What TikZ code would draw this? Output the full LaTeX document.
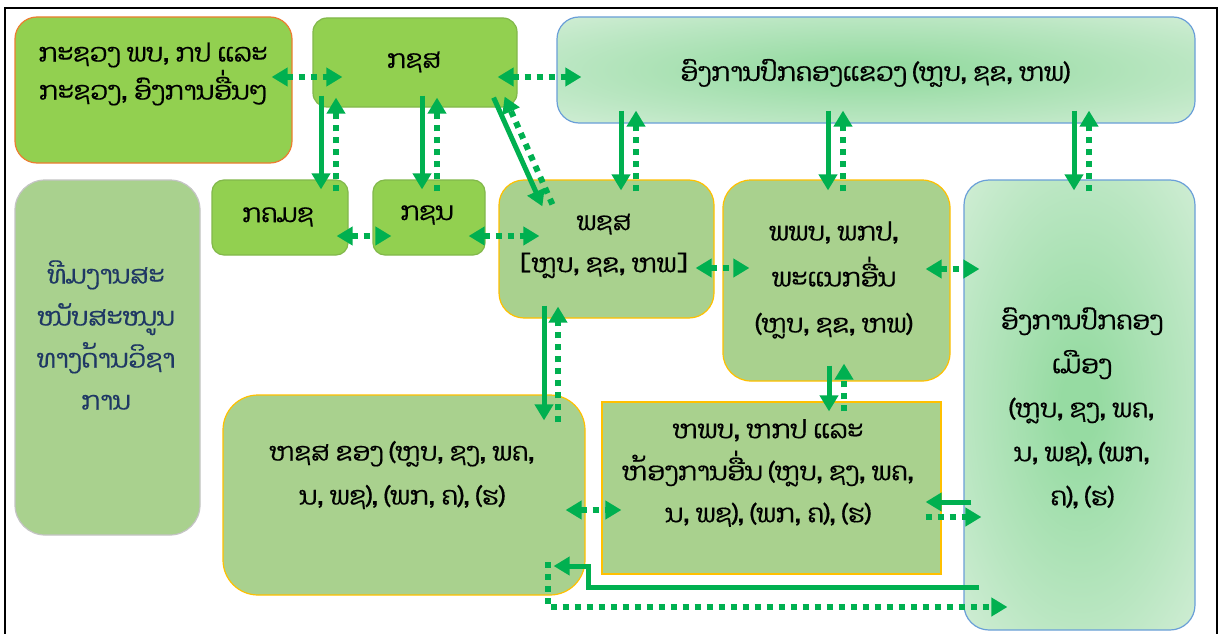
\documentclass[tikz,border=0pt]{standalone}
\usepackage{fontspec}
\newfontfamily\laofont[Script=Lao, FakeBold=0.5]{Dhyana}
\usetikzlibrary{arrows.meta,calc}
\definecolor{ag}{HTML}{00B050}
\definecolor{lg}{HTML}{92D050}
\definecolor{mg}{HTML}{A9D18E}
\definecolor{og}{HTML}{ED7D31}
\definecolor{gb}{HTML}{82B84A}
\definecolor{gold}{HTML}{FFC000}
\definecolor{bl}{HTML}{6A9FD8}
\definecolor{gc}{HTML}{96DBA2}
\definecolor{gm}{HTML}{B9E6C1}
\definecolor{ge}{HTML}{E0F2E2}
\definecolor{navy}{HTML}{1F3864}
\definecolor{gy}{HTML}{C4C4C4}
\pgfdeclareradialshading{myrad}{\pgfpoint{0bp}{0bp}}{color(0bp)=(gc); color(4bp)=(gc); color(24bp)=(gm); color(44bp)=(ge); color(50bp)=(ge)}
\begin{document}
\begin{tikzpicture}[x=1pt,y=-1pt,
  >={Triangle[length=16pt,width=18pt]},
  box/.style={rectangle, inner sep=0pt, line width=1.2pt},
  gbox/.style={box, draw=bl, shading=myrad},
  txt/.style={font=\laofont\fontsize{25.5}{#1}\selectfont, align=center, inner sep=0pt},
  txt/.default=42,
  sline/.style={draw=ag, line width=5pt},
  dline/.style={draw=ag, line width=6pt, dash pattern=on 6pt off 6pt}]
\useasboundingbox (0,0) rectangle (1221,634);
\fill[white] (0,0) rectangle (1221,634);
\draw[line width=2.2pt] (5,640) -- (5,8) -- (1217,8) -- (1217,640);

% boxes
\node[box, fill=lg, draw=og, rounded corners=22pt, minimum width=277pt, minimum height=146pt] (A) at (153.5,90) {};
\node[box, fill=lg, draw=gb, rounded corners=14pt, minimum width=204pt, minimum height=89pt] (B) at (415,62.5) {};
\node[gbox, rounded corners=22pt, minimum width=638pt, minimum height=106pt] (C) at (876,70) {};
\node[box, fill=mg, draw=gy, rounded corners=30pt, minimum width=185pt, minimum height=355pt] (D) at (107.5,357.5) {};
\node[box, fill=lg, draw=gb, rounded corners=12pt, minimum width=136pt, minimum height=75pt] (E) at (280,217.5) {};
\node[box, fill=lg, draw=gb, rounded corners=12pt, minimum width=112pt, minimum height=75pt] (F) at (429,217.5) {};
\node[box, fill=mg, draw=gold, rounded corners=25pt, minimum width=215pt, minimum height=138pt] (G) at (606.5,249) {};
\node[box, fill=mg, draw=gold, rounded corners=28pt, minimum width=227pt, minimum height=201pt] (H) at (836.5,280.5) {};
\node[gbox, rounded corners=25pt, minimum width=231pt, minimum height=450pt] (I) at (1079.5,405) {};
\node[box, fill=mg, draw=gold, rounded corners=35pt, minimum width=362pt, minimum height=200pt] (J) at (404,495) {};
\node[box, fill=mg, draw=gold, minimum width=339pt, minimum height=172pt] (K) at (771.5,488) {};

% texts
\node[txt=38] (At) at (153,74) {ກະຊວງ ພບ, ກປ ແລະ\\ກະຊວງ, ອົງການອື່ນໆ};
\node[txt] (Bt) at (414,62) {ກຊສ};
\node[txt] (Ct) at (875,73) {ອົງການປົກຄອງແຂວງ (ຫຼບ, ຊຂ, ຫພ)};
\node[txt, text=navy] (Dt) at (106,335) {ທີມງານສະ\\ໜັບສະໜູນ\\ທາງດ້ານວິຊາ\\ການ};
\node[txt] (Et) at (278,217) {ກຄມຊ};
\node[txt] (Ft) at (427,215) {ກຊນ};
\node[txt] (Gt) at (604,246) {ພຊສ\\{[}ຫຼບ, ຊຂ, ຫພ{]}};
\node[txt=46] (Ht) at (834,280) {ພພບ, ພກປ,\\ພະແນກອື່ນ\\(ຫຼບ, ຊຂ, ຫພ)};
\node[txt=44] (It) at (1082,408) {ອົງການປົກຄອງ\\ເມືອງ\\(ຫຼບ, ຊງ, ພຄ,\\ນ, ພຊ), (ພກ,\\ຄ), (ຮ)};
\node[txt=44] (Jt) at (402,475) {ຫຊສ ຂອງ (ຫຼບ, ຊງ, ພຄ,\\ນ, ພຊ), (ພກ, ຄ), (ຮ)};
\node[txt] (Kt) at (768,473) {ຫພບ, ຫກປ ແລະ\\ຫ້ອງການອື່ນ (ຫຼບ, ຊງ, ພຄ,\\ນ, ພຊ), (ພກ, ຄ), (ຮ)};

% horizontal dotted double arrows
\draw[dline, <->, shorten <=-21pt, shorten >=-30pt] (A.east|-0,77) -- (B.west|-0,77);
\draw[dline, <->, shorten <=-20pt, shorten >=-25pt] (B.east|-0,77) -- (C.west|-0,77);
\draw[dline, <->, shorten <=-12pt, shorten >=-19pt] (E.east|-0,236) -- (F.west|-0,236);
\draw[dline, <->, shorten <=-17pt, shorten >=-41pt] (F.east|-0,236) -- (G.west|-0,236);
\draw[dline, <->, shorten <=-19pt, shorten >=-27pt] (G.east|-0,268) -- (H.west|-0,268);
\draw[dline, <->, shorten <=-25pt, shorten >=-16pt] (H.east|-0,269) -- (I.west|-0,269);
\draw[dline, <->, shorten <=-20pt, shorten >=-20pt] (J.east|-0,510) -- (K.west|-0,510);

% vertical pairs
\draw[sline, ->, shorten <=-12pt, shorten >=-10pt] (B.south-|321,0) -- (E.north-|321,0);
\draw[dline, ->, shorten <=-12pt, shorten >=-10pt] (E.north-|336,0) -- (B.south-|336,0);
\draw[sline, ->, shorten <=-12pt, shorten >=-10pt] (B.south-|422,0) -- (F.north-|422,0);
\draw[dline, ->, shorten <=-12pt, shorten >=-10pt] (F.north-|437,0) -- (B.south-|437,0);
\draw[sline, ->, shorten <=-13pt, shorten >=-11pt] (C.south-|621,0) -- (G.north-|621,0);
\draw[dline, ->, shorten <=-12pt, shorten >=-13pt] (G.north-|636,0) -- (C.south-|636,0);
\draw[sline, ->, shorten <=-13pt, shorten >=-11pt] (C.south-|828,0) -- (H.north-|828,0);
\draw[dline, ->, shorten <=-12pt, shorten >=-13pt] (H.north-|843,0) -- (C.south-|843,0);
\draw[sline, ->, shorten <=-13pt, shorten >=-11pt] (C.south-|1074,0) -- (I.north-|1074,0);
\draw[dline, ->, shorten <=-12pt, shorten >=-13pt] (I.north-|1089,0) -- (C.south-|1089,0);
\draw[sline, ->, shorten <=-13pt, shorten >=-26pt] (G.south-|544,0) -- (J.north-|544,0);
\draw[dline, ->, shorten <=-28pt, shorten >=-12pt] (J.north-|558,0) -- (G.south-|558,0);
\draw[sline, ->, shorten <=-16pt, shorten >=-10pt] (H.south-|829,0) -- (K.north-|829,0);
\draw[dline, ->, shorten <=-10pt, shorten >=-18pt] (K.north-|844,0) -- (H.south-|844,0);

% diagonal pair B - G
\draw[sline, ->] ([xshift=-24pt,yshift=10pt]B.south east) -- ([xshift=44pt,yshift=-27pt]G.north west);
\draw[dline, ->] ([xshift=54pt,yshift=-25pt]G.north west) -- ([xshift=-13pt,yshift=11pt]B.south east);

% K - I pair
\draw[sline, ->, shorten <=-8pt, shorten >=-16pt] (I.west|-0,502) -- (K.east|-0,502);
\draw[dline, ->, shorten <=-16pt, shorten >=-18pt] (K.east|-0,517) -- (I.west|-0,517);

% bottom loops I - J
\draw[sline, ->] ($(I.west|-0,587)+(16,0)$) -| (588,566) -- ($(J.east|-0,566)+(-32,0)$);
\draw[dline, ->] ($(J.east|-0,562)+(-38,0)$) |- ($(I.west|-0,607)+(44,0)$);
\end{tikzpicture}
\end{document}
